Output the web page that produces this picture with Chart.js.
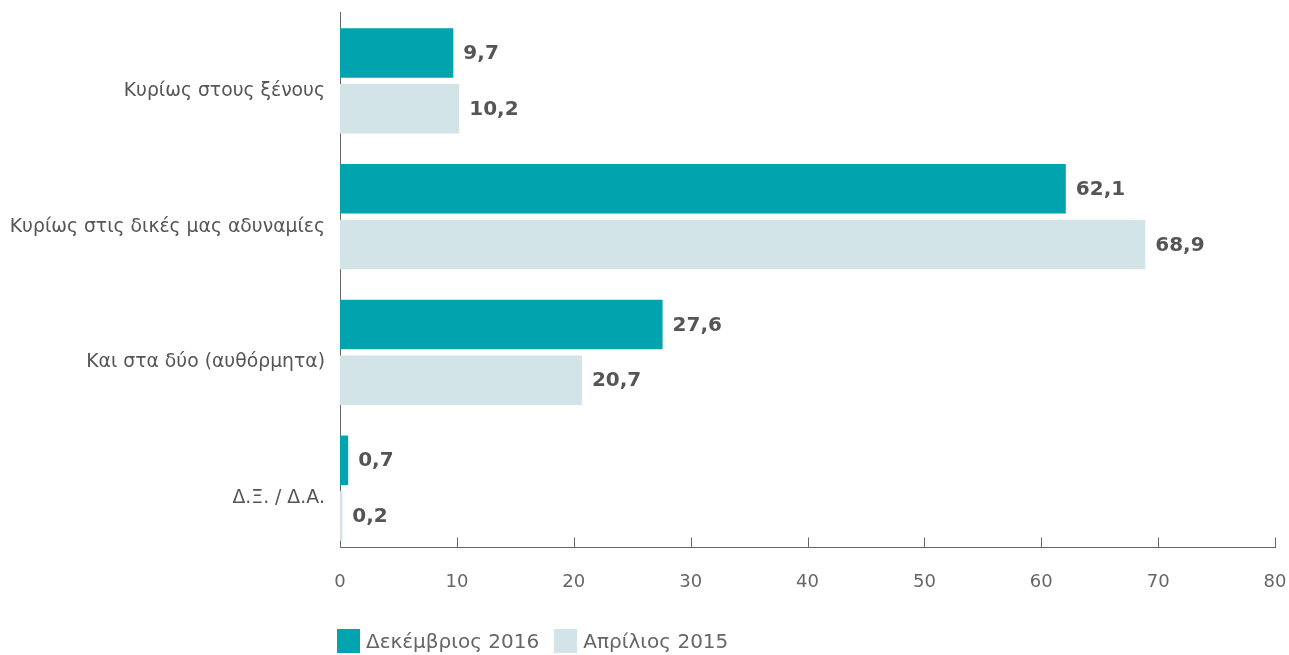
<!DOCTYPE html>
<html>
<head>
<meta charset="utf-8">
<script src="https://cdn.jsdelivr.net/npm/chart.js@4/dist/chart.umd.min.js"></script>
<style>
    html, body { margin: 0; padding: 0; background: #fff; }
    #wrap { position: relative; width: 1289px; height: 655px; }
    #legend { position: absolute; left: 337px; top: 629px; font: 20px "DejaVu Sans", sans-serif; color: #666; display: flex; align-items: center; }
    #legend span.box { display: inline-block; width: 23px; height: 24px; margin-right: 6px; }
    #legend span.item { display: flex; align-items: center; margin-right: 15px; }
</style>
</head>
<body>
<div id="wrap">
    <canvas id="barChart" width="1289" height="655"></canvas>
    <div id="legend"></div>
</div>
<script>
var categories = ['Κυρίως στους ξένους', 'Κυρίως στις δικές μας αδυναμίες', 'Και στα δύο (αυθόρμητα)', 'Δ.Ξ. / Δ.Α.'];
var seriesNames = ['Δεκέμβριος 2016', 'Απρίλιος 2015'];
var dec2016 = [9.7, 62.1, 27.6, 0.7];
var apr2015 = [10.2, 68.9, 20.7, 0.2];
var xTicks = [0, 10, 20, 30, 40, 50, 60, 70, 80];
var colors = ['#00a3ae', '#d2e4e8'];

var fontFamily = '"DejaVu Sans", sans-serif';
var axisLift = 9; // axis line sits a little above the bottom of the category band

// value labels at the end of each bar, comma decimal
var valueLabels = {
    id: 'valueLabels',
    afterDatasetsDraw: function(chart) {
        var ctx = chart.ctx;
        ctx.save();
        ctx.font = 'bold 20px ' + fontFamily;
        ctx.fillStyle = '#555';
        ctx.textBaseline = 'middle';
        ctx.textAlign = 'left';
        chart.data.datasets.forEach(function(ds, i) {
            chart.getDatasetMeta(i).data.forEach(function(bar, j) {
                var txt = ds.data[j].toFixed(1).replace('.', ',');
                ctx.fillText(txt, bar.x + 10, bar.y + 1);
            });
        });
        ctx.restore();
    }
};

// axis lines + short tick marks pointing up from the x axis (under the bars)
var axisLines = {
    id: 'axisLines',
    beforeDatasetsDraw: function(chart) {
        var ctx = chart.ctx;
        var xScale = chart.scales.x;
        var area = chart.chartArea;
        var lineY = Math.round(area.bottom - axisLift) + 0.5;
        var x0 = Math.round(xScale.getPixelForValue(0)) + 0.5;
        ctx.save();
        ctx.strokeStyle = '#666';
        ctx.lineWidth = 1;
        ctx.beginPath();
        ctx.moveTo(x0, area.top - 1);
        ctx.lineTo(x0, lineY);
        ctx.lineTo(xScale.getPixelForValue(xTicks[xTicks.length - 1]) + 1, lineY);
        ctx.stroke();
        xTicks.forEach(function(v) {
            var px = Math.round(xScale.getPixelForValue(v)) + 0.5;
            ctx.beginPath();
            ctx.moveTo(px, lineY - 10);
            ctx.lineTo(px, lineY);
            ctx.stroke();
        });
        ctx.restore();
    }
};

var barChart = document.getElementById('barChart');
var myChart = new Chart(barChart, {
    type: 'bar',
    data: {
        labels: categories,
        datasets: [{
            label: seriesNames[0],
            data: dec2016,
            backgroundColor: colors[0],
            categoryPercentage: 0.82,
            barPercentage: 0.89
        }, {
            label: seriesNames[1],
            data: apr2015,
            backgroundColor: colors[1],
            categoryPercentage: 0.82,
            barPercentage: 0.89
        }]
    },
    options: {
        indexAxis: 'y',
        responsive: false,
        animation: false,
        layout: { padding: { top: 13, right: 14, left: 0, bottom: 0 } },
        plugins: {
            legend: { display: false },
            tooltip: { enabled: false }
        },
        scales: {
            x: {
                min: 0,
                max: 80,
                afterBuildTicks: function(scale) {
                    scale.ticks = xTicks.map(function(v) { return { value: v }; });
                },
                afterFit: function(scale) {
                    scale.height = 99;
                    scale.paddingLeft = 0;
                    scale.paddingRight = 0;
                },
                grid: { display: false, drawTicks: false },
                border: { display: false },
                ticks: {
                    padding: 16,
                    color: '#666',
                    font: { family: fontFamily, size: 18 }
                }
            },
            y: {
                afterFit: function(scale) {
                    scale.width = 340;
                    scale.paddingTop = 0;
                    scale.paddingBottom = 0;
                },
                grid: { display: false, drawTicks: false },
                border: { display: false },
                ticks: {
                    padding: 15,
                    labelOffset: 10,
                    color: '#555',
                    font: { family: fontFamily, size: 18.8 }
                }
            }
        }
    },
    plugins: [valueLabels, axisLines]
});

var legendHtml = '';
seriesNames.forEach(function(name, i) {
    legendHtml += '<span class="item"><span class="box" style="background:' + colors[i] + '"></span>' + name + '</span>';
});
document.getElementById('legend').innerHTML = legendHtml;
</script>
</body>
</html>
